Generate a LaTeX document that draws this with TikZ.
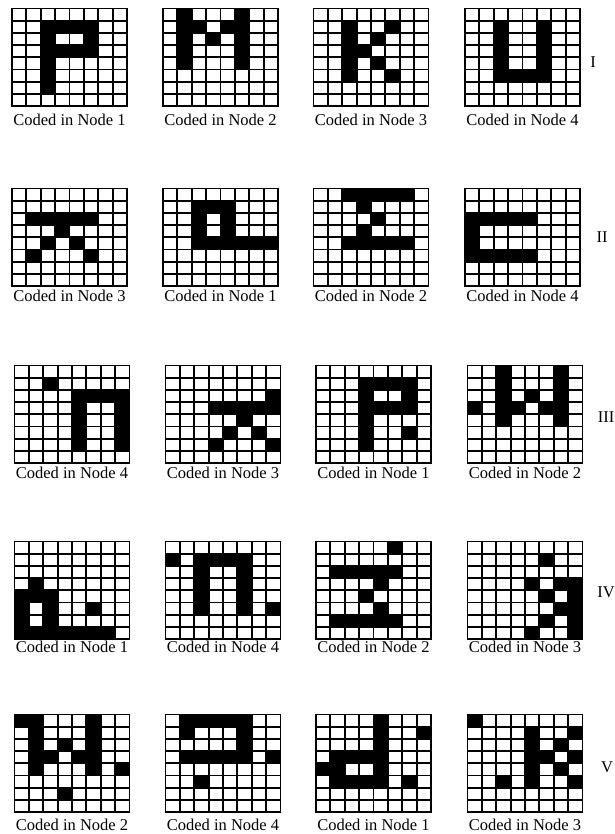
\documentclass[tikz,border=0pt]{standalone}
\usepackage{fontspec}
\setmainfont{Liberation Serif}
\usetikzlibrary{positioning}

% cell size of the 8x8 grids
\newcommand{\cw}{14.375}
\newcommand{\ch}{12.2}
% one row of cells, 8 digits
\newcommand{\cellrow}[8]{%
  \foreach \ci/\val in {1/#1,2/#2,3/#3,4/#4,5/#5,6/#6,7/#7,8/#8} {
    \ifnum\val=1 \fill ({\gx+(\ci-1)*\cw},{\gy+(\ri-1)*\ch}) rectangle ++(\cw,\ch);\fi
  }}
% one coded pattern: top left corner, then the 8 rows
\newcommand{\codegrid}[3]{%
  \def\gx{#1}\def\gy{#2}%
  \foreach [count=\ri] \rowcells in {#3} {\expandafter\cellrow\rowcells}
  \foreach \i in {0,...,8} {
    \draw [gridline] ({#1+\i*\cw},#2) -- ++(0,{8*\ch});
    \draw [gridline] (#1,{#2+\i*\ch}) -- ++({8*\cw},0);
  }}

\tikzset{
  gridline/.style={line width=1.9pt, line cap=rect},
  caption/.style={inner sep=0pt, font=\fontsize{16.5}{18}\selectfont},
  rowmark/.style={inner sep=0pt, font=\fontsize{16.5}{18}\selectfont}
}

\begin{document}
\begin{tikzpicture}[x=1pt,y=1pt,yscale=-1]
\useasboundingbox (0,0) rectangle (614,834);

% Row I
\codegrid{12}{8.5}{00000000,00111100,00100100,00111100,00100000,00100000,00100000,00000000}
\codegrid{163}{8.5}{01000100,01101100,01010100,01000100,01000100,00000000,00000000,00000000}
\codegrid{313.5}{8.5}{00000000,00100100,00101000,00110000,00101000,00100100,00000000,00000000}
\codegrid{465}{8.5}{00000000,00100100,00100100,00100100,00100100,00111100,00000000,00000000}

% Row II
\codegrid{12}{188.5}{00000000,00000000,01111100,00010000,00101000,01000100,00000000,00000000}
\codegrid{163}{188.5}{00000000,00111000,00101000,00101000,00111111,00000000,00000000,00000000}
\codegrid{313.5}{188.5}{00111110,00010000,00001000,00010000,00111110,00000000,00000000,00000000}
\codegrid{465}{188.5}{00000000,00000000,11111000,10000000,10000000,11111000,00000000,00000000}

% Row III
\codegrid{14.5}{365.5}{00000000,00100000,00001111,00001001,00001001,00001001,00001001,00000000}
\codegrid{165.5}{365.5}{00000000,00000000,00000001,00011111,00000100,00001010,00010001,00000000}
\codegrid{316}{365.5}{00000000,00011110,00010010,00011110,00010000,00010010,00010000,00000000}
\codegrid{467.5}{365.5}{00100010,00100010,00101010,10110110,00100010,00000000,00000000,00000000}

% Row IV
\codegrid{14.5}{541.5}{00000000,00000000,00000000,01000000,11100000,10100100,10100000,11111110}
\codegrid{165.5}{541.5}{00000000,10111100,00100100,00100100,00100100,00100101,00000000,00000000}
\codegrid{316}{541.5}{00000100,00000000,01111100,00001000,00010000,00001000,01111100,00000000}
\codegrid{467.5}{541.5}{00000000,00000100,00000000,00001011,00000101,00000011,00000101,00001001}

% Row V
\codegrid{14.5}{714.5}{11000100,01000100,01010100,01101100,01000101,00000000,00010000,00000000}
\codegrid{165.5}{714.5}{01111100,01000100,00000100,01111101,00000000,00100000,00000000,00000000}
\codegrid{316}{714.5}{00001000,00001001,00001000,01111000,11001000,01111010,00000000,00000000}
\codegrid{467.5}{714.5}{10000000,00001001,00001010,00001101,00001010,00101001,00000000,00000000}

% Text Node
\node (capIa) at (69.5,120) [caption] {Coded in Node 1};
\node (capIb) at (220.5,120) [caption] {Coded in Node 2};
\node (capIc) at (371,120) [caption] {Coded in Node 3};
\node (capId) at (522.5,120) [caption] {Coded in Node 4};

\node (capIIa) at (69.5,296) [caption] {Coded in Node 3};
\node (capIIb) at (220.5,296) [caption] {Coded in Node 1};
\node (capIIc) at (371,296) [caption] {Coded in Node 2};
\node (capIId) at (522.5,296) [caption] {Coded in Node 4};

\node (capIIIa) at (72,473) [caption] {Coded in Node 4};
\node (capIIIb) at (223,473) [caption] {Coded in Node 3};
\node (capIIIc) at (373.5,473) [caption] {Coded in Node 1};
\node (capIIId) at (525,473) [caption] {Coded in Node 2};

\node (capIVa) at (72,647) [caption] {Coded in Node 1};
\node (capIVb) at (223,647) [caption] {Coded in Node 4};
\node (capIVc) at (373.5,647) [caption] {Coded in Node 2};
\node (capIVd) at (525,647) [caption] {Coded in Node 3};

\node (capVa) at (72,825) [caption] {Coded in Node 2};
\node (capVb) at (223,825) [caption] {Coded in Node 4};
\node (capVc) at (373.5,825) [caption] {Coded in Node 1};
\node (capVd) at (525,825) [caption] {Coded in Node 3};

% row numbers
\node (markI) at (593,62) [rowmark] {I};
\node (markII) at (602,237) [rowmark] {II};
\node (markIII) at (606,417) [rowmark] {III};
\node (markIV) at (606,592) [rowmark] {IV};
\node (markV) at (607,767) [rowmark] {V};

\end{tikzpicture}
\end{document}
